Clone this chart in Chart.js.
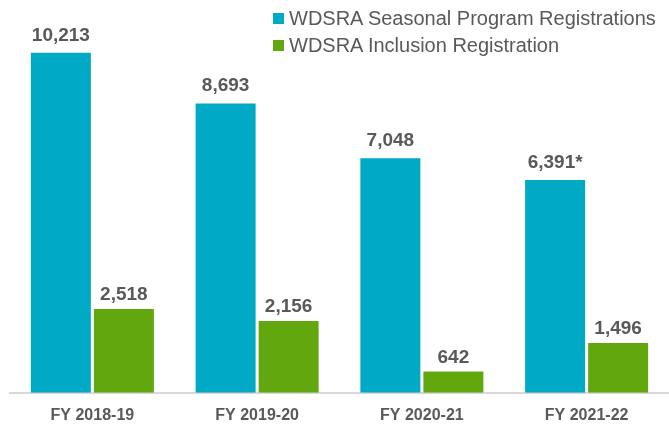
<!DOCTYPE html>
<html>
<head>
<meta charset="utf-8">
<script src="https://cdn.jsdelivr.net/npm/chart.js@4/dist/chart.umd.min.js"></script>
<style>
  html, body { margin: 0; padding: 0; background: #fff; }
  #wrap { position: relative; width: 669px; height: 424px; }
  #legend { position: absolute; left: 273px; top: 5px; font-family: "Liberation Sans", Arial, sans-serif; font-size: 20px; color: #595959; }
  .item { position: relative; height: 27px; line-height: 27px; padding-left: 16px; white-space: nowrap; }
  .box { position: absolute; left: 0; top: 8px; width: 11px; height: 11px; }
</style>
</head>
<body>
<div id="wrap">
  <canvas id="chart"></canvas>
  <div id="legend"></div>
</div>
<script>
const years = ['FY 2018-19', 'FY 2019-20', 'FY 2020-21', 'FY 2021-22'];
const seasonal = [10213, 8693, 7048, 6391];
const inclusion = [2518, 2156, 642, 1496];
const seasonalNotes = ['', '', '', '*'];
const inclusionNotes = ['', '', '', ''];

const textColor = '#595959';
const fontFamily = '"Liberation Sans", Arial, sans-serif';

const ctx = document.getElementById('chart').getContext('2d');
ctx.canvas.width = 669;
ctx.canvas.height = 424;

// value labels above each bar
const barLabels = {
    id: 'barLabels',
    afterDatasetsDraw(chart) {
        const c = chart.ctx;
        c.save();
        c.font = 'bold 19px ' + fontFamily;
        c.fillStyle = textColor;
        c.textAlign = 'center';
        c.textBaseline = 'middle';
        chart.data.datasets.forEach((ds, i) => {
            chart.getDatasetMeta(i).data.forEach((bar, j) => {
                const txt = ds.data[j].toLocaleString('en-US') + ds.notes[j];
                c.fillText(txt, bar.x, bar.y - ds.labelOffset);
            });
        });
        c.restore();
    }
};

const chart = new Chart(ctx, {
    type: 'bar',
    data: {
        labels: years,
        datasets: [
            {
                label: 'WDSRA Seasonal Program Registrations',
                data: seasonal,
                notes: seasonalNotes,
                labelOffset: 17.5,
                backgroundColor: '#00AAC5'
            },
            {
                label: 'WDSRA Inclusion Registration',
                data: inclusion,
                notes: inclusionNotes,
                labelOffset: 14,
                backgroundColor: '#63A70F'
            }
        ]
    },
    options: {
        responsive: false,
        animation: false,
        categoryPercentage: 0.765,
        barPercentage: 0.952,
        layout: { padding: { left: 10, right: 0, top: 0, bottom: -14 } },
        plugins: {
            legend: { display: false },
            tooltip: { enabled: false }
        },
        scales: {
            x: {
                grid: { display: false, drawTicks: false },
                border: { display: true, color: '#D9D9D9', width: 2 },
                ticks: {
                    padding: 13,
                    color: textColor,
                    font: { family: fontFamily, size: 16, weight: 'bold' }
                }
            },
            y: {
                display: false,
                min: 0,
                max: 11800
            }
        }
    },
    plugins: [barLabels]
});

// legend as html, stacked in one column
const legend = document.getElementById('legend');
chart.data.datasets.forEach(ds => {
    const row = document.createElement('div');
    row.className = 'item';
    const box = document.createElement('span');
    box.className = 'box';
    box.style.background = ds.backgroundColor;
    row.appendChild(box);
    row.appendChild(document.createTextNode(ds.label));
    legend.appendChild(row);
});
</script>
</body>
</html>
